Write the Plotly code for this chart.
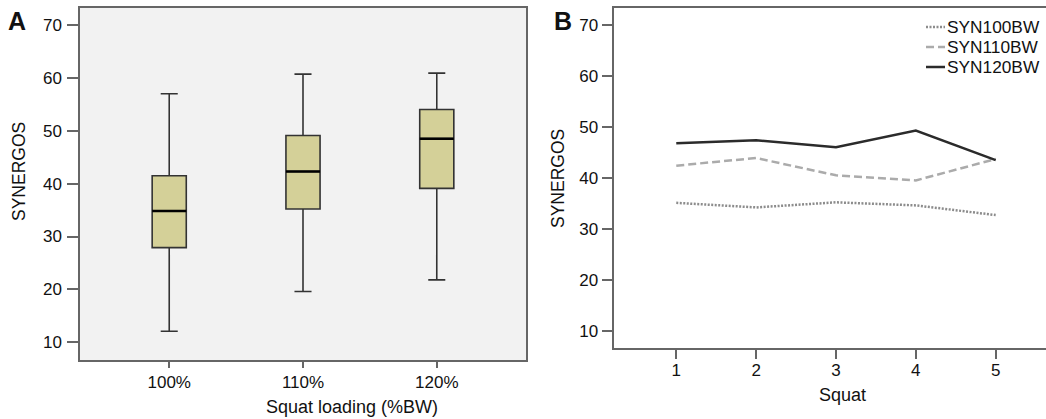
import plotly.graph_objects as go

# ---- Data ----
loads = ["100%", "110%", "120%"]
upper_whisker = [57.0, 60.7, 60.9]
q3 = [41.5, 49.1, 54.0]
median = [34.8, 42.3, 48.5]
q1 = [27.9, 35.2, 39.1]
lower_whisker = [12.1, 19.6, 21.8]

squats = [1, 2, 3, 4, 5]
series_names = ["SYN100BW", "SYN110BW", "SYN120BW"]
syn100 = [35.1, 34.2, 35.2, 34.6, 32.7]
syn110 = [42.4, 43.9, 40.5, 39.5, 43.7]
syn120 = [46.8, 47.4, 46.0, 49.3, 43.5]

y_ticks = [10, 20, 30, 40, 50, 60, 70]

W, H = 1046, 419
FONT = "Liberation Sans, Arial, Helvetica, sans-serif"
TXT = "#111111"
AX = "#666666"

def px_x(p):
    return p / W

def px_y(p):
    return 1 - p / H

pos = list(range(len(loads)))
box_w = 0.255

styles = [
    dict(color="#8c8c8c", width=2.5, dash="2px,1.5px"),
    dict(color="#ababab", width=2.5, dash="8px,4px"),
    dict(color="#2b2b2b", width=2.5, dash="solid"),
]

fig = go.Figure()

# Panel A box plot
fig.add_trace(go.Box(
    x=pos, q1=q1, median=median, q3=q3,
    lowerfence=lower_whisker, upperfence=upper_whisker,
    width=box_w, whiskerwidth=0.5,
    fillcolor="#d4d098", line=dict(color="#333333", width=1.6),
    boxpoints=False, showlegend=False, xaxis="x", yaxis="y",
))
for i, m in zip(pos, median):
    fig.add_trace(go.Scatter(
        x=[i - box_w / 2, i + box_w / 2], y=[m, m], mode="lines",
        line=dict(color="#000000", width=2.5), showlegend=False,
        hoverinfo="skip", xaxis="x", yaxis="y",
    ))

# Panel B lines
for name, vals, st in zip(series_names, [syn100, syn110, syn120], styles):
    fig.add_trace(go.Scatter(
        x=squats, y=vals, mode="lines", name=name, line=st,
        showlegend=False, xaxis="x2", yaxis="y2",
    ))

common_axis = dict(
    showline=True, linecolor=AX, linewidth=1.5, showgrid=False, zeroline=False,
    ticks="outside", tickcolor=AX, tickwidth=1.5,
    tickfont=dict(family=FONT, size=17, color=TXT),
)

def ann(text, x, y, size, angle=0, xanchor="center", color=TXT):
    return dict(text=text, x=px_x(x), y=px_y(y), xref="paper", yref="paper",
                xanchor=xanchor, yanchor="middle", textangle=angle,
                showarrow=False, font=dict(family=FONT, size=size, color=color))

annotations = [
    ann("<b>A</b>", 17, 21, 25),
    ann("<b>B</b>", 563, 21, 25),
    ann("SYNERGOS", 19, 172, 17.5, angle=-90),
    ann("SYNERGOS", 558, 179, 17.5, angle=-90),
    ann("Squat loading (%BW)", 352, 407, 18),
    ann("Squat", 842, 395, 18),
]

shapes = [dict(type="rect", xref="x domain", yref="y domain",
               x0=0, x1=1, y0=0, y1=1, fillcolor="#f2f2f2",
               line=dict(width=0), layer="below")]

# custom legend (panel B, top right)
leg_rows = [27, 47, 67]
for name, st, ry in zip(series_names, styles, leg_rows):
    shapes.append(dict(type="line", xref="paper", yref="paper",
                       x0=px_x(926), x1=px_x(945), y0=px_y(ry), y1=px_y(ry),
                       line=dict(color=st["color"], width=st["width"], dash=st["dash"])))
    annotations.append(ann(name, 945, ry, 17.3, xanchor="left"))

fig.update_layout(
    width=W, height=H,
    margin=dict(l=0, r=0, t=0, b=0),
    paper_bgcolor="white",
    plot_bgcolor="white",
    font=dict(family=FONT, size=17, color=TXT),
    showlegend=False,
    xaxis=dict(domain=[px_x(80), px_x(526)], anchor="y",
               range=[-0.667, 2.667], tickvals=pos, ticktext=loads,
               mirror=True, ticklen=6, **common_axis),
    yaxis=dict(domain=[px_y(360), px_y(7.5)], anchor="x",
               range=[6.65, 73.3], tickvals=y_ticks,
               mirror=True, ticklen=11, ticklabelstandoff=2, **common_axis),
    xaxis2=dict(domain=[px_x(614.3), 1.0], anchor="y2",
                range=[0.224, 5.63], tickvals=squats,
                mirror=True, ticklen=10, ticklabelstandoff=-4, **common_axis),
    yaxis2=dict(domain=[px_y(347.7), px_y(7.5)], anchor="x2",
                range=[6.66, 73.45], tickvals=y_ticks,
                ticklen=11, **common_axis),
    shapes=shapes,
    annotations=annotations,
)

fig.write_html("out.html", config={"displayModeBar": False},
               post_script="document.body.style.margin='0';document.body.style.padding='0';")
